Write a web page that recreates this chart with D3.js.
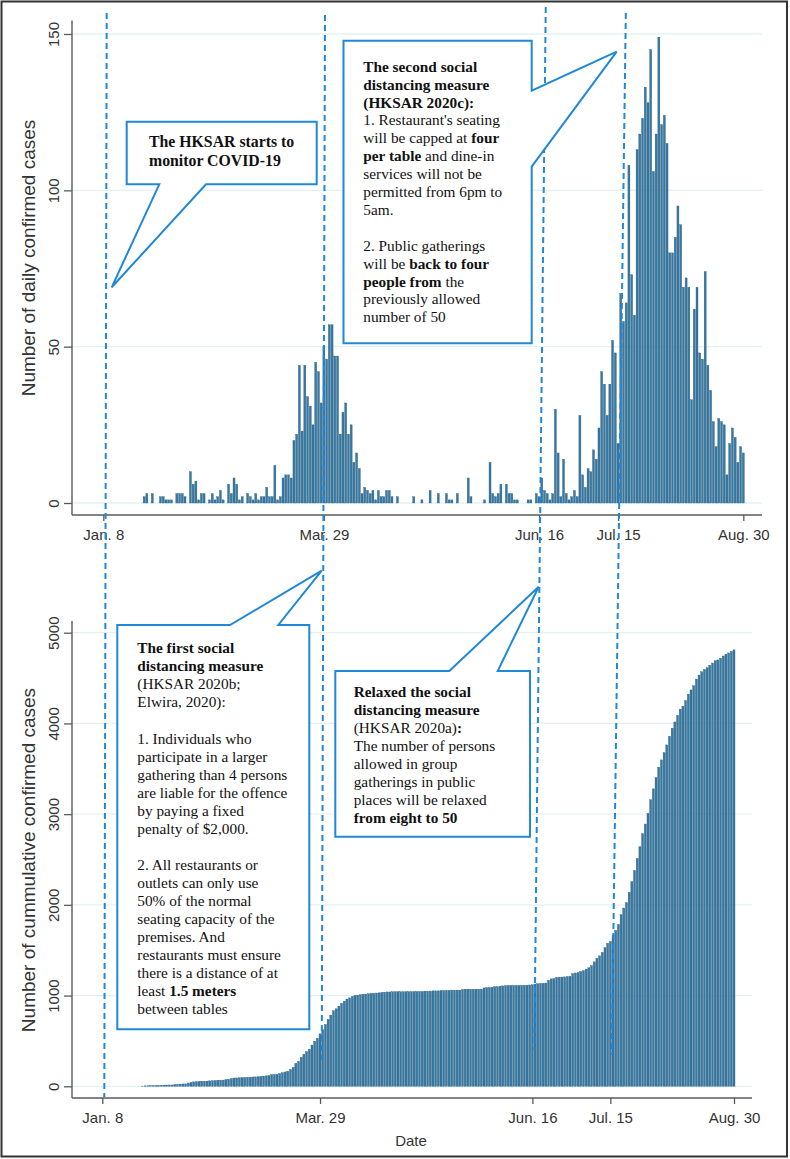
<!DOCTYPE html>
<html><head><meta charset="utf-8">
<script src="https://cdn.jsdelivr.net/npm/d3@7"></script>
<style>html,body{margin:0;padding:0;background:#fff;} svg{display:block;}</style>
</head><body>
<svg id="chart" width="790" height="1159"></svg>
<script>
// ---------------- DATA ----------------
const startDate = "2020-01-08";
// daily confirmed cases, one value per day from Jan 8 to Aug 30, 2020
const dailyCases = [
 0,0,0,0,0,0,0,0,0,0, 0,0,0,0,0,2,3,0,3,0,
 0,2,2,1,1,1,0,3,3,3, 2,0,10,6,7,1,3,3,0,1,
 3,1,2,4,1,0,6,3,8,6, 1,2,0,3,2,1,3,1,2,2,
 5,2,2,12,1,2,8,9,9,8, 20,22,44,23,44,34,31,25,45,42,
 32,50,46,57,57,47,47,22,29,32, 22,25,13,16,11,3,5,4,3,4,
 1,4,2,2,4,4,2,0,2,0, 0,0,0,0,2,0,0,1,0,0,
 4,0,0,3,0,0,3,1,1,0, 3,0,0,0,8,2,0,0,0,0,
 1,0,13,3,2,3,6,0,6,3, 3,1,1,0,0,0,1,1,0,3,
 2,8,4,3,1,3,30,16,2,14, 3,1,2,4,2,28,9,5,11,10,
 17,14,24,42,38,28,38,52,48,19, 67,58,64,108,73,60,113,118,123,133,
 128,145,106,118,149,121,124,115,80,80, 85,95,89,69,72,69,33,62,69,48,
 46,74,44,36,26,18,27,26,25,9, 19,24,21,13,18,16
];
const tickDates = ["2020-01-08","2020-03-29","2020-06-16","2020-07-15","2020-08-30"];
const tickLabels = ["Jan. 8","Mar. 29","Jun. 16","Jul. 15","Aug. 30"];
const dailyTicks = [0,50,100,150];
const cumulativeTicks = [0,1000,2000,3000,4000,5000];
const dailyTitle = "Number of daily confirmed cases";
const cumulativeTitle = "Number of cummulative confirmed cases";
const xTitle = "Date";
const markerDates = ["2020-01-08","2020-03-29","2020-06-16","2020-07-15"];

const callout1Lines = [
 [["The HKSAR starts to",1]],
 [["monitor COVID-19",1]]
];
const callout2Lines = [
 [["The second social",1]],
 [["distancing measure",1]],
 [["(HKSAR 2020c):",1]],
 [["1. Restaurant's seating",0]],
 [["will be capped at ",0],["four",1]],
 [["per table",1],[" and dine-in",0]],
 [["services will not be",0]],
 [["permitted from 6pm to",0]],
 [["5am.",0]],
 [],
 [["2. Public gatherings",0]],
 [["will be ",0],["back to four",1]],
 [["people from",1],[" the",0]],
 [["previously allowed",0]],
 [["number of 50",0]]
];
const callout3Lines = [
 [["The first social",1]],
 [["distancing measure",1]],
 [["(HKSAR 2020b;",0]],
 [["Elwira, 2020):",0]],
 [],
 [["1. Individuals who",0]],
 [["participate in a larger",0]],
 [["gathering than 4 persons",0]],
 [["are liable for the offence",0]],
 [["by paying a fixed",0]],
 [["penalty of $2,000.",0]],
 [],
 [["2. All restaurants or",0]],
 [["outlets can only use",0]],
 [["50% of the normal",0]],
 [["seating capacity of the",0]],
 [["premises. And",0]],
 [["restaurants must ensure",0]],
 [["there is a distance of at",0]],
 [["least ",0],["1.5 meters",1]],
 [["between tables",0]]
];
const callout4Lines = [
 [["Relaxed the social",1]],
 [["distancing measure",1]],
 [["(HKSAR 2020a)",0],[":",1]],
 [["The number of persons",0]],
 [["allowed in group",0]],
 [["gatherings in public",0]],
 [["places will be relaxed",0]],
 [["from eight to 50",1]]
];

// ---------------- LAYOUT ----------------
const parse = d3.utcParse("%Y-%m-%d");
const t0 = parse(startDate);
const dates = dailyCases.map((_, i) => d3.utcDay.offset(t0, i));
const cumulative = Array.from(d3.cumsum(dailyCases));
const endDate = parse(tickDates[tickDates.length - 1]);

const L = {
  top:    { xr: [103.3, 743.3], yr: [503, 34.0], axisX: 72, axisYTop: 20.5, axisYBot: 515, xEnd: 762, titleY: 258 },
  bottom: { xr: [102.3, 734.0], yr: [1086.3, 632.7], axisX: 72, axisYTop: 621, axisYBot: 1098, xEnd: 752, titleY: 860 }
};
const barColor = "#3a78a0", barEdge = "#1d5c84";
const gridColor = "#e4f0f5", axisColor = "#5a5a5a", textColor = "#333";
const blue = "#2088d8";
const sans = "'Liberation Sans', Arial, sans-serif";
const serif = "'Liberation Serif', 'Times New Roman', serif";

const svg = d3.select("#chart");
svg.append("rect").attr("width", 790).attr("height", 1159).attr("fill", "#fff");

function panel(cfg, values, domainMax, ticks, title) {
  const x = d3.scaleUtc().domain([t0, endDate]).range(cfg.xr);
  const y = d3.scaleLinear().domain([0, domainMax]).range(cfg.yr);
  const g = svg.append("g");
  // grid
  g.selectAll(".grid").data(ticks).join("line")
    .attr("x1", cfg.axisX).attr("x2", cfg.xEnd)
    .attr("y1", d => y(d)).attr("y2", d => y(d))
    .attr("stroke", gridColor).attr("stroke-width", 1.3);
  // bars
  const bw = 2.0;
  g.selectAll(".bar").data(values.map((v, i) => ({v, d: dates[i]})).filter(o => o.v > 0)).join("rect")
    .attr("x", o => x(o.d) - bw / 2).attr("width", bw)
    .attr("y", o => y(o.v)).attr("height", o => y(0) - y(o.v))
    .attr("fill", barColor).attr("stroke", barEdge).attr("stroke-width", 0.35);
  // y axis
  const ya = g.append("g").attr("transform", `translate(${cfg.axisX},0)`)
    .call(d3.axisLeft(y).tickValues(ticks).tickFormat(d3.format("d")).tickSize(8).tickSizeOuter(0));
  ya.select(".domain").remove();
  ya.selectAll(".tick line").attr("stroke", axisColor).attr("stroke-width", 1.3);
  ya.selectAll(".tick text").attr("x", null).attr("dy", null)
    .attr("transform", "translate(-13.5,0) rotate(-90)")
    .attr("text-anchor", "middle").attr("fill", textColor)
    .style("font-family", sans).style("font-size", "15px");
  g.append("line").attr("x1", cfg.axisX).attr("x2", cfg.axisX)
    .attr("y1", cfg.axisYTop).attr("y2", cfg.axisYBot)
    .attr("stroke", axisColor).attr("stroke-width", 1.4);
  // x axis
  const xa = g.append("g").attr("transform", `translate(0,${cfg.axisYBot})`)
    .call(d3.axisBottom(x).tickValues(tickDates.map(parse)).tickFormat((d, i) => tickLabels[i]).tickSize(6).tickSizeOuter(0));
  xa.select(".domain").remove();
  xa.selectAll(".tick line").attr("stroke", axisColor).attr("stroke-width", 1.3);
  xa.selectAll(".tick text").attr("y", 25).attr("dy", null).attr("fill", textColor)
    .style("font-family", sans).style("font-size", "15px");
  g.append("line").attr("x1", cfg.axisX).attr("x2", cfg.xEnd)
    .attr("y1", cfg.axisYBot).attr("y2", cfg.axisYBot)
    .attr("stroke", axisColor).attr("stroke-width", 1.4);
  // title
  g.append("text").attr("transform", `translate(35,${cfg.titleY}) rotate(-90)`)
    .attr("text-anchor", "middle").attr("fill", textColor)
    .style("font-family", sans).style("font-size", "19px").text(title);
  return x;
}

const xTop = panel(L.top, dailyCases, 150, dailyTicks, dailyTitle);
const xBot = panel(L.bottom, cumulative, 5000, cumulativeTicks, cumulativeTitle);

svg.append("text").attr("x", 411).attr("y", 1146).attr("text-anchor", "middle")
  .attr("fill", textColor).style("font-family", sans).style("font-size", "15px").text(xTitle);

// ---------------- MARKER LINES ----------------
const markerLayout = [
  {y0: 13, y1: 1097, dxTop: 3.4, dxBot: 2.0},
  {y0: 15, y1: 1060, dxTop: 1.1, dxBot: 1.7},
  {y0: 7,  y1: 1050, dxTop: 6.7, dxBot: 1.9},
  {y0: 13, y1: 1055, dxTop: 7.8, dxBot: 1.4}
];
svg.append("g").selectAll("line").data(markerDates).join("line")
  .attr("x1", (d, i) => xTop(parse(d)) + markerLayout[i].dxTop)
  .attr("y1", (d, i) => markerLayout[i].y0)
  .attr("x2", (d, i) => xBot(parse(d)) + markerLayout[i].dxBot)
  .attr("y2", (d, i) => markerLayout[i].y1)
  .attr("stroke", blue).attr("stroke-width", 2).attr("stroke-dasharray", "6,4");

// ---------------- CALLOUTS ----------------
const callouts = [
  {path: "M126.7,121.7 H316.7 V184.3 H206 L111.7,287.3 L159.3,184.3 H126.7 Z",
   lines: callout1Lines, x: 149, y: 146.7, step: 19.3, size: 15.8},
  {path: "M343.5,40.7 H531.7 V90.7 L616.7,51.7 L531.7,166.7 V343.3 H343.5 Z",
   lines: callout2Lines, x: 363.3, y: 71.7, step: 17.9, size: 15.3},
  {path: "M117.3,625 H230 L321.7,570.7 L278.3,625 H309.3 V1029.3 H117.3 Z",
   lines: callout3Lines, x: 137.3, y: 653.3, step: 18.05, size: 15.3},
  {path: "M335.3,671 H449.3 L538.7,586.7 L497.7,671 H530 V836.7 H335.3 Z",
   lines: callout4Lines, x: 353.7, y: 696.7, step: 18, size: 15.3}
];
callouts.forEach(c => {
  const g = svg.append("g");
  g.append("path").attr("d", c.path).attr("fill", "#fff")
    .attr("stroke", blue).attr("stroke-width", 2).attr("stroke-linejoin", "miter");
  c.lines.forEach((segs, li) => {
    if (!segs.length) return;
    const t = g.append("text").attr("x", c.x).attr("y", c.y + li * c.step)
      .attr("fill", "#111").style("font-family", serif).style("font-size", c.size + "px")
      .style("white-space", "pre");
    segs.forEach(([s, b]) => t.append("tspan").attr("font-weight", b ? "bold" : "normal").text(s));
  });
});

// ---------------- FRAME ----------------
svg.append("rect").attr("x", 1.5).attr("y", 1.5).attr("width", 785.5).attr("height", 1155)
  .attr("fill", "none").attr("stroke", "#333").attr("stroke-width", 2);
</script>
</body></html>
